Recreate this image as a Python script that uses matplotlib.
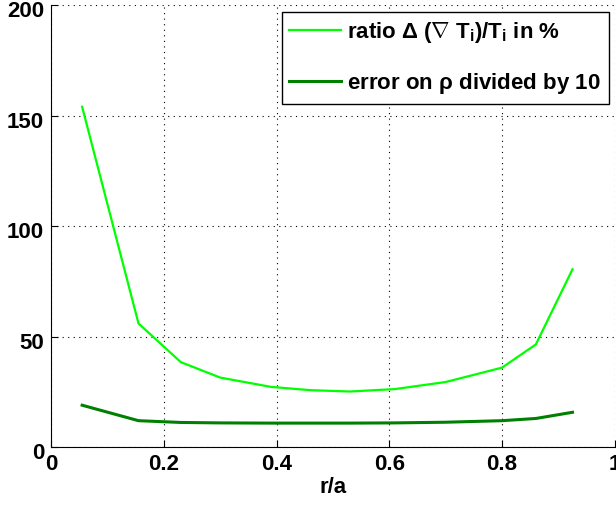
import matplotlib
matplotlib.use('Agg')
import matplotlib.pyplot as plt
from matplotlib.transforms import ScaledTranslation

plt.rcParams['font.family'] = ['Liberation Sans', 'DejaVu Sans']
plt.rcParams['mathtext.fontset'] = 'custom'
plt.rcParams['mathtext.rm'] = 'Liberation Sans:bold'
plt.rcParams['mathtext.it'] = 'Liberation Sans:bold'

r_a = [0.055, 0.155, 0.23, 0.30, 0.39, 0.46, 0.53, 0.61, 0.70, 0.80, 0.86, 0.925]
ratio = [154, 56, 38.5, 31.5, 27.3, 25.8, 25.2, 26.3, 29.5, 36, 46.5, 80.5]
err_rho = [19, 12, 11.2, 11, 10.9, 10.9, 10.9, 11, 11.3, 12, 13, 15.8]

xticks = [0, 0.2, 0.4, 0.6, 0.8, 1]
xlabels = ['0', '0.2', '0.4', '0.6', '0.8', '1']
yticks = [0, 50, 100, 150, 200]

fig = plt.figure(figsize=(6.16, 5.17), dpi=100)
ax = fig.add_axes([0.083, 0.135, 0.915, 0.855])

ax.plot(r_a, ratio, color='#00ff00', lw=1.6,
        label=r'ratio $\Delta$ ($\nabla$ T$_\mathrm{i}$)/T$_\mathrm{i}$ in %')
ax.plot(r_a, err_rho, color='#008000', lw=2.2,
        label=r'error on $\rho$ divided by 10')

ax.set_xlim(0, 1)
ax.set_ylim(0, 200)
ax.set_xticks(xticks)
ax.set_xticklabels(xlabels)
ax.set_yticks(yticks)
ax.tick_params(direction='in', length=5, labelsize=16, pad=5)
for lab in ax.get_xticklabels() + ax.get_yticklabels():
    lab.set_fontweight('bold')
# the top y label sits a little lower so it stays inside the figure
for lab in ax.get_yticklabels():
    lab.set_transform(lab.get_transform() + ScaledTranslation(0, -3 / 72, fig.dpi_scale_trans))
ax.grid(True, linestyle=(0, (1, 4)), color='black', lw=0.8)
ax.spines['top'].set_visible(False)
ax.spines['right'].set_visible(False)
ax.set_xlabel('r/a', fontsize=16, fontweight='bold', labelpad=1)

leg = ax.legend(loc='upper right', bbox_to_anchor=(0.989, 0.985),
                prop={'size': 16, 'weight': 'bold'}, fancybox=False,
                edgecolor='black', framealpha=1, handlelength=2.3,
                handletextpad=0.3, labelspacing=1.2, borderpad=0.35,
                borderaxespad=0)
leg.get_frame().set_linewidth(1.0)

fig.savefig('out.png', dpi=100)
